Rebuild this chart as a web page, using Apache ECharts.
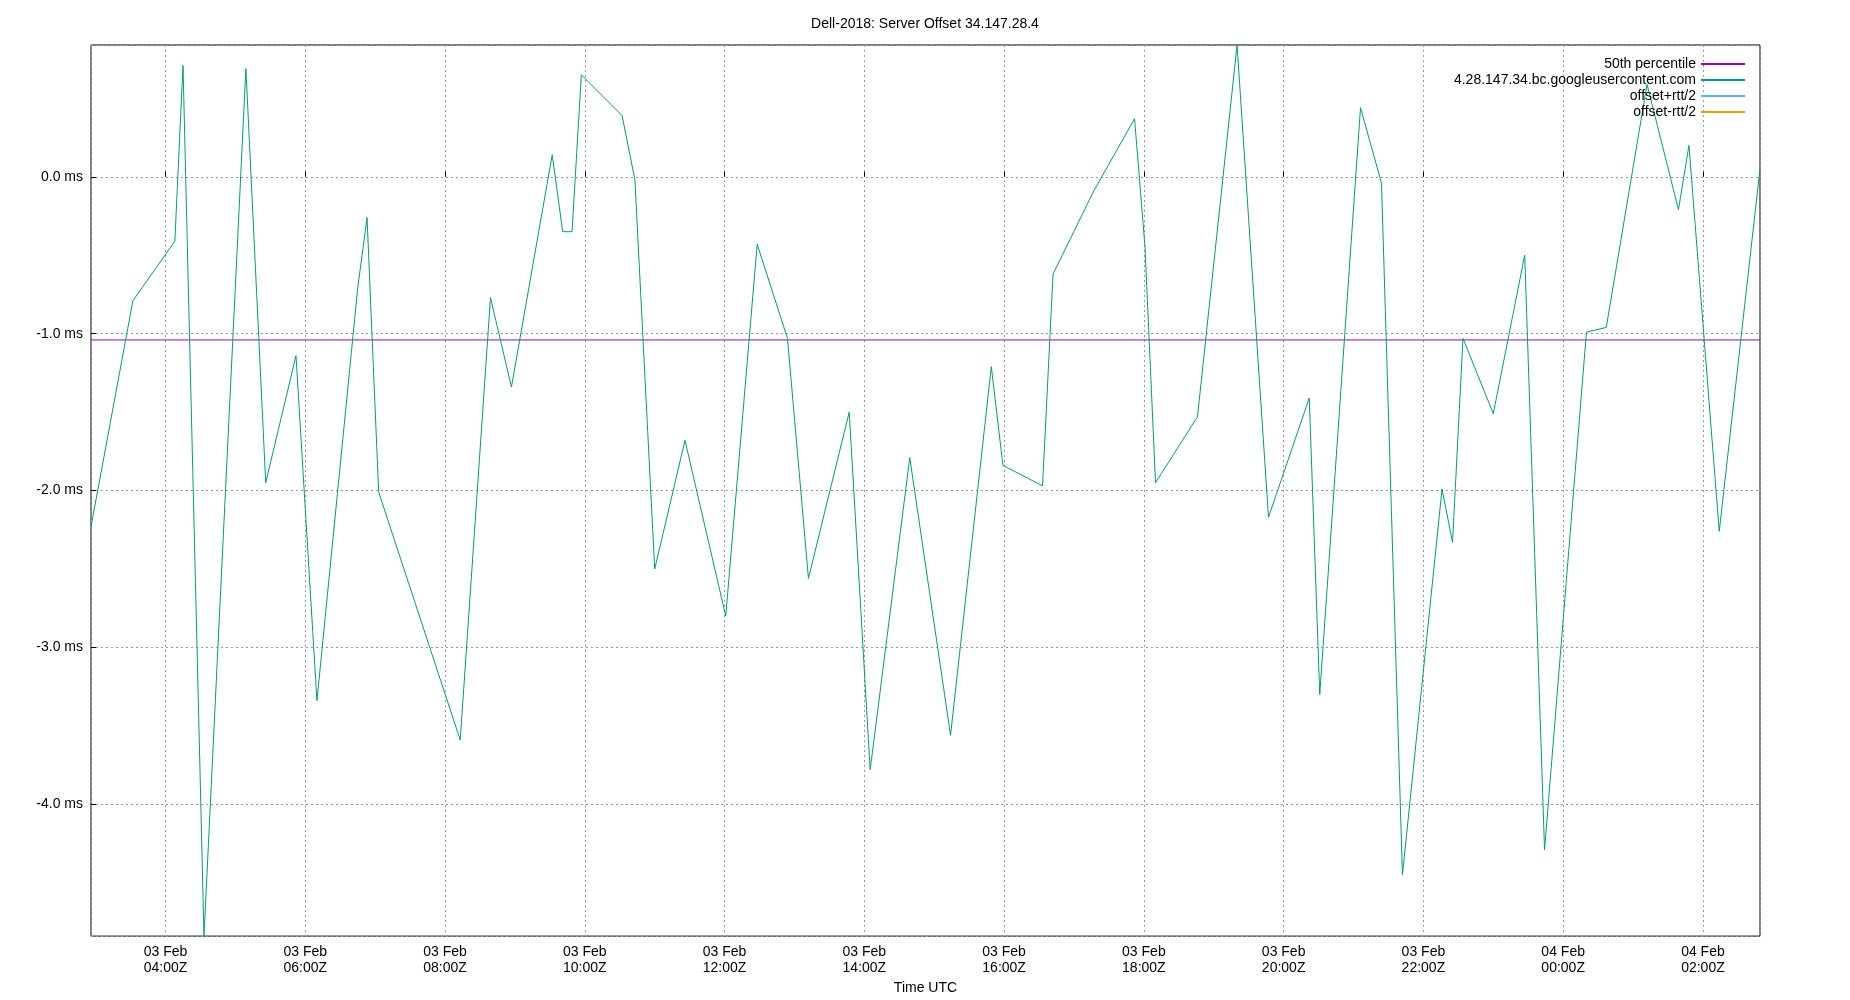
<!DOCTYPE html>
<html><head><meta charset="utf-8">
<script src="https://cdn.jsdelivr.net/npm/echarts@6/dist/echarts.min.js"></script>
<style>html,body{margin:0;background:#fff}#c{width:1850px;height:1000px}</style>
</head><body><div id="c"></div>
<script>
const times = ["2025-02-03T02:56","2025-02-03T03:32","2025-02-03T04:08","2025-02-03T04:15","2025-02-03T04:33","2025-02-03T05:09","2025-02-03T05:26","2025-02-03T05:52","2025-02-03T06:10","2025-02-03T06:45","2025-02-03T06:53","2025-02-03T07:03","2025-02-03T08:13","2025-02-03T08:39","2025-02-03T08:57","2025-02-03T09:32","2025-02-03T09:41","2025-02-03T09:49","2025-02-03T09:57","2025-02-03T10:32","2025-02-03T10:43","2025-02-03T11:00","2025-02-03T11:26","2025-02-03T12:01","2025-02-03T12:28","2025-02-03T12:54","2025-02-03T13:12","2025-02-03T13:47","2025-02-03T14:05","2025-02-03T14:39","2025-02-03T15:14","2025-02-03T15:49","2025-02-03T15:59","2025-02-03T16:33","2025-02-03T16:42","2025-02-03T17:17","2025-02-03T17:52","2025-02-03T18:01","2025-02-03T18:10","2025-02-03T18:46","2025-02-03T19:20","2025-02-03T19:47","2025-02-03T20:22","2025-02-03T20:31","2025-02-03T21:06","2025-02-03T21:24","2025-02-03T21:42","2025-02-03T22:16","2025-02-03T22:25","2025-02-03T22:34","2025-02-03T23:00","2025-02-03T23:27","2025-02-03T23:44","2025-02-04T00:20","2025-02-04T00:37","2025-02-04T01:12","2025-02-04T01:39","2025-02-04T01:48","2025-02-04T02:14","2025-02-04T02:49"];
const offsets = [-2.23,-0.79,-0.41,0.71,-4.84,0.69,-1.95,-1.14,-3.34,-0.71,-0.26,-2.01,-3.59,-0.77,-1.34,0.14,-0.35,-0.35,0.65,0.39,-0.02,-2.50,-1.68,-2.80,-0.43,-1.03,-2.56,-1.50,-3.78,-1.79,-3.56,-1.21,-1.84,-1.97,-0.62,-0.09,0.37,-0.45,-1.95,-1.53,0.84,-2.17,-1.41,-3.30,0.44,-0.04,-4.45,-1.99,-2.33,-1.03,-1.51,-0.50,-4.29,-0.99,-0.96,0.59,-0.21,0.20,-2.26,0.05];
const p50 = -1.04;
const xMin = "2025-02-03T02:56", xMax = "2025-02-04T02:49";
const yMin = -4.84, yMax = 0.84;
const ts = s => Date.parse(s + ":00Z");
const data = times.map((t, i) => [ts(t), offsets[i]]);
const MON = ["Jan","Feb","Mar","Apr","May","Jun","Jul","Aug","Sep","Oct","Nov","Dec"];
const p2 = n => String(n).padStart(2, "0");
const chart = echarts.init(document.getElementById('c'));
const font = {fontFamily: 'Liberation Sans, Arial', fontSize: 14, color: '#000'};
chart.setOption({
  useUTC: true,
  animation: false,
  title: {text: 'Dell-2018: Server Offset 34.147.28.4', left: 'center', top: 12, textStyle: {...font, fontWeight: 'normal'}},
  grid: {left: 91, right: 90, top: 45, bottom: 52, show: true, borderColor: '#000', borderWidth: 1},
  legend: {right: 100, top: 52, orient: 'vertical', align: 'right', itemGap: 2, itemWidth: 44, itemHeight: 2, icon: 'rect',
    textStyle: {...font}, data: ['50th percentile', '4.28.147.34.bc.googleusercontent.com', 'offset+rtt/2', 'offset-rtt/2']},
  xAxis: {type: 'time', min: ts(xMin), max: ts(xMax), splitNumber: 10, minInterval: 7200000,
    name: 'Time UTC', nameLocation: 'middle', nameGap: 42, nameTextStyle: {...font},
    axisLine: {show: false}, axisTick: {inside: true, lineStyle: {color: '#000'}},
    splitLine: {show: true, lineStyle: {color: '#999', type: [2, 3]}},
    axisLabel: {...font, lineHeight: 16, hideOverlap: false, formatter: v => {
      const d = new Date(v); return p2(d.getUTCDate()) + ' ' + MON[d.getUTCMonth()] + '\n' + p2(d.getUTCHours()) + ':' + p2(d.getUTCMinutes()) + 'Z';}}},
  yAxis: {type: 'value', min: yMin, max: yMax, splitNumber: 6,
    axisLine: {show: false}, axisTick: {show: true, inside: true, lineStyle: {color: '#000'}},
    splitLine: {show: true, lineStyle: {color: '#999', type: [2, 3]}},
    axisLabel: {...font, formatter: v => v.toFixed(1) + ' ms', showMinLabel: false, showMaxLabel: false}},
  series: [
    {name: '50th percentile', type: 'line', symbol: 'none', color: '#9400d3', lineStyle: {width: 1},
      data: [[ts(xMin), p50], [ts(xMax), p50]]},
    {name: '4.28.147.34.bc.googleusercontent.com', type: 'line', symbol: 'none', color: '#009e73', lineStyle: {width: 1}, data: data},
    {name: 'offset+rtt/2', type: 'line', symbol: 'none', color: '#56b4e9', data: []},
    {name: 'offset-rtt/2', type: 'line', symbol: 'none', color: '#e69f00', data: []}
  ]
});
</script></body></html>
